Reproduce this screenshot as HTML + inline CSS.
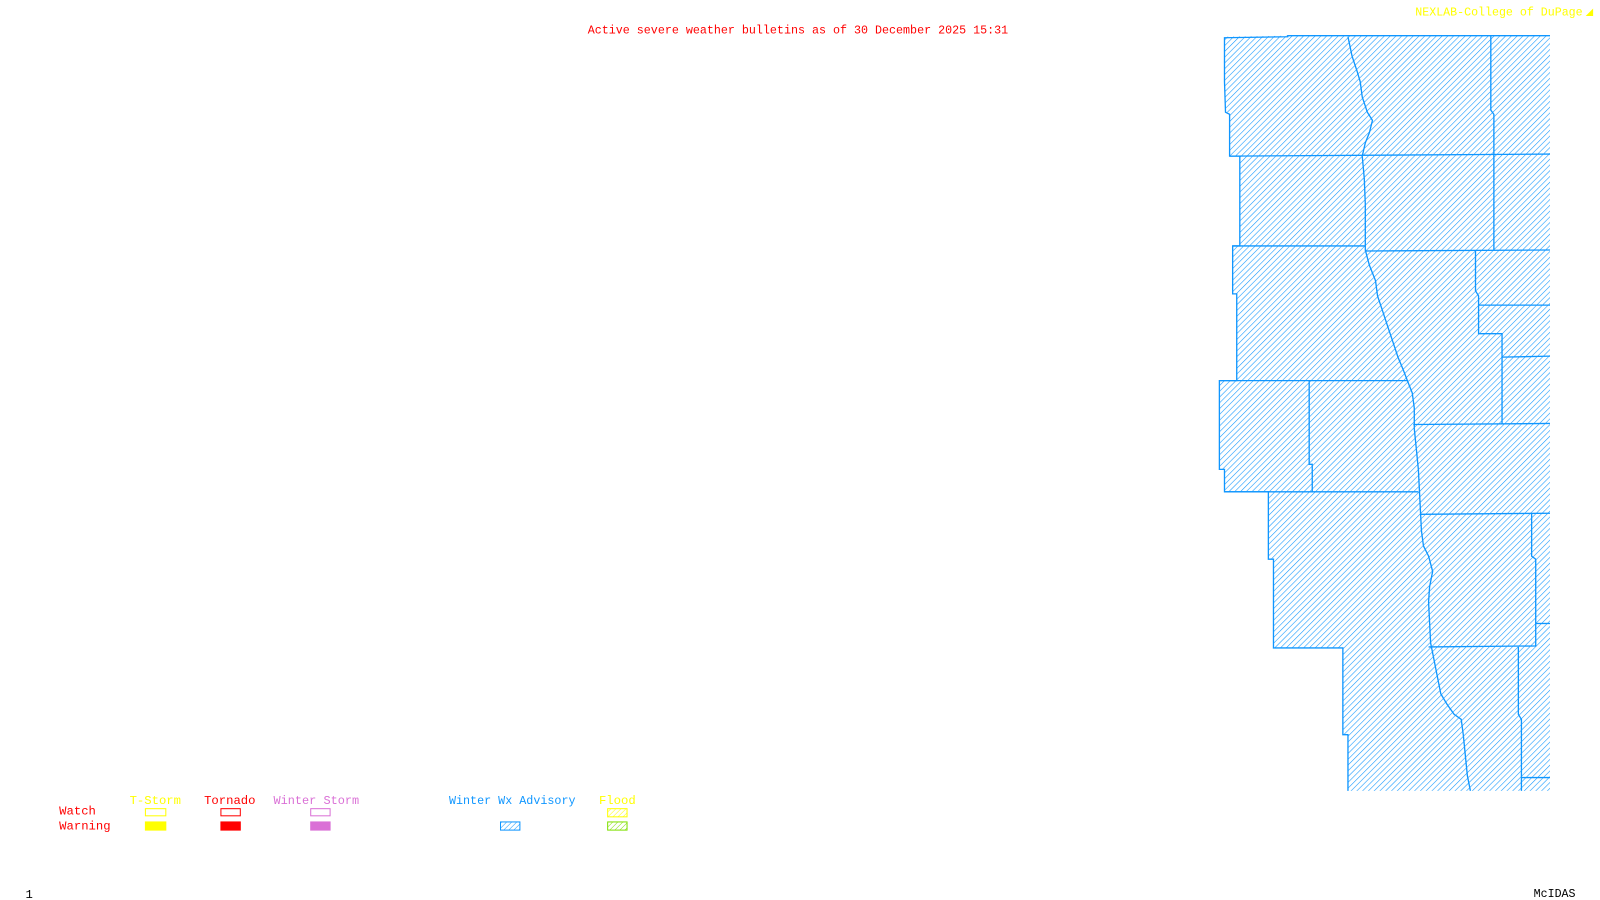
<!DOCTYPE html>
<html><head><meta charset="utf-8"><style>
html,body{margin:0;padding:0;background:#fff;width:1600px;height:900px;overflow:hidden}
svg{display:block}
text{font-family:"Liberation Mono",monospace;font-size:12px}
</style></head><body>
<svg width="1600" height="900" viewBox="0 0 1568 882" preserveAspectRatio="none">
<defs>
<pattern id="h" width="4" height="4" patternUnits="userSpaceOnUse" patternTransform="rotate(45)">
<line x1="0" y1="0" x2="0" y2="4" stroke="#0f96ff" stroke-width="1.1"/></pattern>
<pattern id="hy" width="3.5" height="3.5" patternUnits="userSpaceOnUse" patternTransform="rotate(45)">
<line x1="0" y1="0" x2="0" y2="4" stroke="#ffff00" stroke-width="1"/></pattern>
<pattern id="hg" width="3.5" height="3.5" patternUnits="userSpaceOnUse" patternTransform="rotate(45)">
<line x1="0" y1="0" x2="0" y2="4" stroke="#7fdf00" stroke-width="1"/></pattern>
<pattern id="hb" width="3.5" height="3.5" patternUnits="userSpaceOnUse" patternTransform="rotate(45)">
<line x1="0" y1="0" x2="0" y2="4" stroke="#0f96ff" stroke-width="1"/></pattern>
</defs>
<text x="576" y="33" fill="#ff0000" textLength="412" lengthAdjust="spacingAndGlyphs">Active severe weather bulletins as of 30 December 2025 15:31</text>
<text x="1387" y="15" fill="#ffff00" textLength="164" lengthAdjust="spacingAndGlyphs">NEXLAB-College of DuPage</text>
<text x="1554" y="15" fill="#ffff00">&#9698;</text>
<g fill="url(#h)" stroke="#0f96ff" stroke-width="1.2">
<polygon points="1200,36 1262,35 1519,35 1519,775 1321,775 1321,720 1316,720 1316,635 1248,635 1248,548 1243,548 1243,482 1200,482 1200,460 1195,460 1195,373 1212,373 1212,288 1208,288 1208,241 1215,241 1215,153 1205,153 1205,110 1201,110 1200,80" stroke="none"/>
</g>
<g fill="none" stroke="#0f96ff" stroke-width="1.3">
<polyline points="1519,35 1262,35 1262,36 1200,37 1200,80 1201,110 1205,112 1205,153 1215,153 1215,241 1208,241 1208,288 1212,288 1212,373 1195,373 1195,460 1200,460 1200,482 1243,482 1243,548 1248,548 1248,635 1316,635 1316,720 1321,720 1321,775"/>
<polyline points="1321,36 1325,55 1330,70 1333,80 1335,95 1340,110 1345,118 1342,130 1338,140 1335,153 1337,175 1338,200 1338,220 1338,245 1342,260 1348,275 1350,290 1355,305 1360,320 1365,335 1370,350 1375,362 1380,375 1384,385 1386,400 1386,420 1388,440 1390,460 1391,480 1392,500 1393,520 1395,535 1400,545 1404,560 1401,575 1400,590 1401,610 1402,630 1405,645 1408,660 1412,680 1418,690 1425,700 1432,705 1434,720 1436,740 1438,760 1441,775"/>
<polyline points="1205,153 1519,151"/>
<polyline points="1461,35 1461,108 1464,112 1464,245"/>
<polyline points="1208,241 1338,241"/>
<polyline points="1338,246 1519,245"/>
<polyline points="1446,245 1446,285 1449,290 1449,327 1472,327 1472,416"/>
<polyline points="1449,299 1519,299"/>
<polyline points="1472,350 1519,349"/>
<polyline points="1195,373 1380,373"/>
<polyline points="1283,373 1283,455 1286,455 1286,482"/>
<polyline points="1200,482 1390,482"/>
<polyline points="1385,416 1519,415"/>
<polyline points="1392,504 1519,503"/>
<polyline points="1501,503 1501,545 1505,548 1505,633 1400,634"/>
<polyline points="1505,611 1519,611"/>
<polyline points="1488,634 1488,700 1491,705 1491,775"/>
<polyline points="1491,762 1519,762"/>
</g>
<text x="127" y="788" fill="#ffff00">T-Storm</text>
<text x="200" y="788" fill="#ff0000">Tornado</text>
<text x="268" y="788" fill="#da70d6" textLength="84" lengthAdjust="spacingAndGlyphs">Winter Storm</text>
<text x="440" y="788" fill="#0f96ff" textLength="124" lengthAdjust="spacingAndGlyphs">Winter Wx Advisory</text>
<text x="587" y="788" fill="#ffff00">Flood</text>
<text x="58" y="798" fill="#ff0000">Watch</text>
<text x="58" y="813" fill="#ff0000">Warning</text>
<rect x="142.5" y="792.5" width="20" height="7" fill="none" stroke="#ffff00"/>
<rect x="142" y="805" width="21" height="9" fill="#ffff00"/>
<rect x="216.5" y="792.5" width="19" height="7" fill="none" stroke="#ff0000"/>
<rect x="216" y="805" width="20" height="9" fill="#ff0000"/>
<rect x="304.5" y="792.5" width="19" height="7" fill="none" stroke="#da70d6"/>
<rect x="304" y="805" width="20" height="9" fill="#da70d6"/>
<rect x="490.5" y="805.5" width="19" height="8" fill="url(#hb)" stroke="#0f96ff"/>
<rect x="595.5" y="792.5" width="19" height="8" fill="url(#hy)" stroke="#ffff00"/>
<rect x="595.5" y="805.5" width="19" height="8" fill="url(#hg)" stroke="#7fdf00"/>
<text x="25" y="880" fill="#000" font-size="10">1</text>
<text x="1503" y="879" fill="#000" font-size="10" textLength="41" lengthAdjust="spacingAndGlyphs">McIDAS</text>
</svg>
</body></html>
